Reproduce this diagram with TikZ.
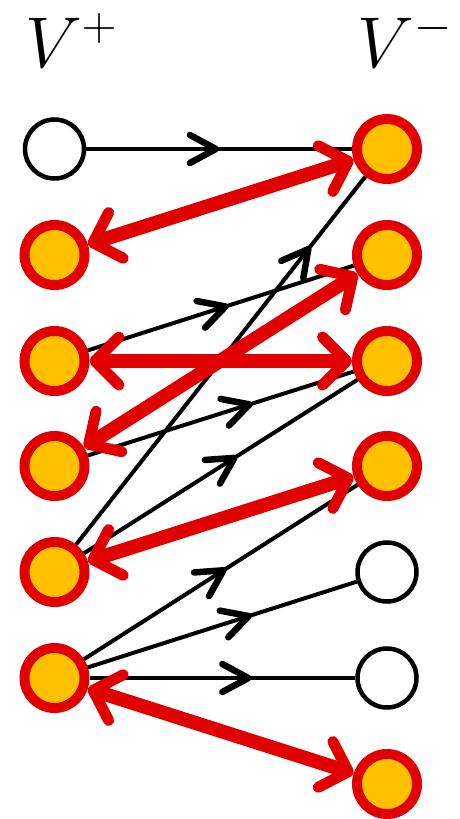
\documentclass[tikz,border=0pt]{standalone}
\usepackage{fix-cm}
\usetikzlibrary{arrows.meta,decorations.markings}
\definecolor{matchred}{RGB}{224,0,0}
\definecolor{matchgold}{RGB}{255,192,0}
\DeclareMathSizes{72}{72}{48}{36}

\begin{document}
\begin{tikzpicture}[
    x=1pt, y=-1pt,
    free/.style={circle, draw=black, fill=white, line width=4.5pt, minimum size=59pt, inner sep=0pt},
    covered/.style={circle, draw=matchred, fill=matchgold, line width=10pt, minimum size=60pt, inner sep=0pt},
    setname/.style={font=\fontsize{72}{80}\selectfont, inner sep=0pt, anchor=base},
    flow/.style={line width=4pt, postaction={decorate},
        decoration={markings, mark=at position #1 with {\arrow{Straight Barb[length=26pt, width=28pt, line width=6.5pt, round]}}}},
    matched/.style={matchred, line width=14pt,
        {Straight Barb[length=24pt, width=48pt, line width=11pt, round]}-{Straight Barb[length=24pt, width=48pt, line width=11pt, round]}}
]
\useasboundingbox (0,0) rectangle (460,819);

\node[setname] (vplus) at (71,67) {$V^+$};
\node[setname] (vminus) at (405,67) {$V^-$};

% left side
\node[free] (l1) at (54.5,149) {};
\node[covered] (l2) at (54.5,255) {};
\node[covered] (l3) at (54.5,361) {};
\node[covered] (l4) at (54.5,466) {};
\node[covered] (l5) at (54.5,572) {};
\node[covered] (l6) at (54.5,678) {};

% right side
\node[covered] (r1) at (387,149) {};
\node[covered] (r2) at (387,255) {};
\node[covered] (r3) at (387,361) {};
\node[covered] (r4) at (387,466) {};
\node[free] (r5) at (387,572) {};
\node[free] (r6) at (387,678) {};
\node[covered] (r7) at (387,784) {};

\draw[flow=0.5] (l1) -- (r1);
\draw[flow=0.81] (l5) -- (r1);
\draw[flow=0.53] (l3) -- (r2);
\draw[flow=0.62] (l4) -- (r3);
\draw[flow=0.56] (l5) -- (r3);
\draw[flow=0.52] (l6) -- (r4);
\draw[flow=0.61] (l6) -- (r5);
\draw[flow=0.61] (l6) -- (r6);

% matching
\draw[matched] (l2) -- (r1);
\draw[matched] (l3) -- (r3);
\draw[matched] (l4) -- (r2);
\draw[matched] (l5) -- (r4);
\draw[matched] (l6) -- (r7);
\end{tikzpicture}
\end{document}
